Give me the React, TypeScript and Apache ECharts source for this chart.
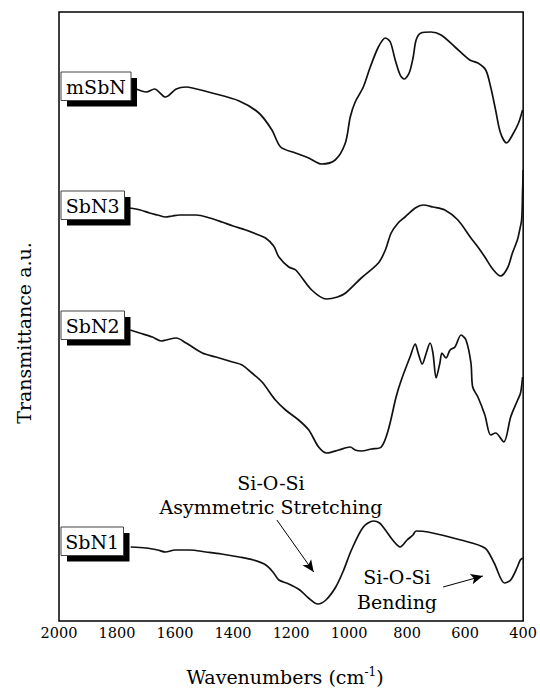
import React, { useEffect, useRef } from "react";
import * as echarts from "echarts";

// Wavenumbers (cm-1) and transmittance (arbitrary units)
const mSbNWn = [1734, 1699, 1671, 1633, 1596, 1562, 1540, 1472, 1379, 1311, 1266, 1236, 1185, 1139, 1095, 1048, 1013, 996, 979, 951, 927, 899, 875, 858, 841, 824, 810, 793, 779, 769, 752, 718, 683, 635, 584, 556, 529, 512, 495, 478, 457, 437, 416, 402];
const mSbNVal = [532, 529, 532, 524, 532, 534, 533, 528, 520, 508, 491, 474, 468, 463, 457, 461, 478, 504, 519, 534, 554, 574, 583, 579, 561, 546, 542, 548, 564, 581, 588, 589, 586, 574, 561, 558, 551, 534, 511, 488, 478, 486, 498, 511];

const sbN3Wn = [1757, 1720, 1688, 1660, 1633, 1610, 1585, 1527, 1480, 1438, 1400, 1356, 1320, 1288, 1260, 1242, 1208, 1184, 1129, 1078, 1040, 1012, 958, 899, 875, 855, 831, 807, 772, 745, 711, 670, 625, 580, 556, 532, 505, 478, 454, 437, 420, 412, 405, 402, 400];
const sbN3Val = [413, 411, 408, 406, 404, 405, 406, 406, 403, 399, 395, 391, 387, 383, 375, 364, 354, 351, 331, 322, 324, 328, 343, 358, 371, 388, 398, 404, 413, 416, 414, 411, 401, 383, 374, 364, 352, 345, 353, 368, 381, 391, 402, 430, 451];

const sbN2Wn = [1754, 1722, 1678, 1648, 1631, 1596, 1562, 1506, 1459, 1402, 1369, 1335, 1300, 1254, 1219, 1174, 1139, 1105, 1077, 1036, 996, 979, 958, 923, 889, 865, 838, 820, 790, 772, 762, 748, 734, 721, 711, 700, 687, 680, 666, 652, 635, 614, 597, 580, 574, 556, 532, 512, 495, 467, 443, 419, 409, 402];
const sbN2Val = [291, 288, 284, 280, 281, 283, 278, 268, 264, 259, 256, 248, 239, 221, 211, 201, 191, 174, 168, 171, 174, 171, 170, 172, 174, 191, 224, 241, 264, 277, 268, 257, 268, 278, 268, 243, 258, 268, 263, 271, 274, 286, 281, 258, 234, 224, 206, 186, 188, 179, 204, 221, 228, 244];

const sbN1Wn = [1753, 1700, 1660, 1633, 1600, 1550, 1493, 1440, 1379, 1330, 1287, 1260, 1242, 1208, 1170, 1140, 1108, 1080, 1046, 1020, 992, 951, 916, 895, 875, 850, 824, 800, 780, 769, 728, 615, 532, 500, 464, 443, 420, 410, 401];
const sbN1Val = [74, 73, 71, 69, 71, 71, 69, 67, 64, 61, 56, 48, 41, 37, 31, 23, 17, 21, 34, 50, 71, 94, 100, 98, 91, 81, 74, 81, 86, 90, 89, 81, 73, 58, 38, 41, 54, 61, 63];

const xTicks = [2000, 1800, 1600, 1400, 1200, 1000, 800, 600, 400];
const seriesNames = ["mSbN", "SbN3", "SbN2", "SbN1"];

// Arrow annotations [fromWn, fromVal, toWn, toVal]
const arrowStretch = [1249, 101, 1122, 49];
const arrowBend = [676, 34, 539, 45];

const FONT = "DejaVu Serif";
const FS = 19;

function zip(xs: number[], ys: number[]) {
  return xs.map((x, i) => [x, ys[i]]);
}

function txt(text: string, x: number, y: number, extra: any = {}) {
  return {
    type: "text",
    x,
    y,
    style: {
      text,
      fontFamily: FONT,
      fontSize: FS,
      fill: "#000",
      align: "center",
      verticalAlign: "middle",
      ...extra,
    },
  };
}

export default function App() {
  const ref = useRef<HTMLDivElement>(null);
  useEffect(() => {
    if (!ref.current) return;
    const chart = echarts.init(ref.current, undefined, { renderer: "svg" });
    const datasets = [zip(mSbNWn, mSbNVal), zip(sbN3Wn, sbN3Val), zip(sbN2Wn, sbN2Val), zip(sbN1Wn, sbN1Val)];

    const boxes = [
      { x: 61, y: 72, w: 70 },
      { x: 61, y: 191, w: 63.5 },
      { x: 61, y: 311, w: 63.5 },
      { x: 61, y: 527, w: 62.5 },
    ];
    const boxGraphics: any[] = [];
    boxes.forEach((b, i) => {
      boxGraphics.push({
        type: "rect",
        shape: { x: b.x + 6, y: b.y + 6, width: b.w, height: 28.5 },
        style: { fill: "#000" },
        z: 100,
      });
      boxGraphics.push({
        type: "rect",
        shape: { x: b.x, y: b.y, width: b.w, height: 28.5 },
        style: { fill: "#fff", stroke: "#444", lineWidth: 1 },
        z: 101,
      });
      boxGraphics.push({ ...txt(seriesNames[i], b.x + b.w / 2, b.y + 14.5), z: 102 });
    });

    const option: any = {
      animation: false,
      backgroundColor: "#fff",
      grid: {
        left: 59,
        right: 15,
        top: 12,
        bottom: 70,
        show: true,
        borderColor: "#000",
        borderWidth: 1.5,
        backgroundColor: "transparent",
      },
      xAxis: {
        type: "value",
        inverse: true,
        min: 400,
        max: 2000,
        interval: 200,
        axisLine: { show: false },
        axisTick: { show: false },
        splitLine: { show: false },
        axisLabel: {
          fontFamily: FONT,
          fontSize: 14.5,
          color: "#000",
          margin: 4,
          formatter: (v: number) => (xTicks.includes(v) ? String(v) : ""),
        },
      },
      yAxis: {
        type: "value",
        min: 0,
        max: 609,
        axisLine: { show: false },
        axisTick: { show: false },
        axisLabel: { show: false },
        splitLine: { show: false },
      },
      series: datasets.map((d, i) => ({
        name: seriesNames[i],
        type: "line",
        data: d,
        showSymbol: false,
        symbol: "none",
        smooth: 0.3,
        lineStyle: { color: "#111", width: 1.7 },
        z: 5,
        markLine:
          i === 3
            ? {
                silent: true,
                symbol: ["none", "arrow"],
                symbolSize: [8, 12],
                label: { show: false },
                lineStyle: { color: "#000", width: 1, type: "solid" },
                data: [
                  [
                    { coord: [arrowStretch[0], arrowStretch[1]] },
                    { coord: [arrowStretch[2], arrowStretch[3]] },
                  ],
                  [
                    { coord: [arrowBend[0], arrowBend[1]] },
                    { coord: [arrowBend[2], arrowBend[3]] },
                  ],
                ],
              }
            : undefined,
      })),
      graphic: [
        ...boxGraphics,
        { ...txt("Transmittance a.u.", 24, 333), rotation: Math.PI / 2 },
        txt("{a|Wavenumbers (cm}{s|-1}{a|)}", 285, 677, {
          rich: {
            a: { fontFamily: FONT, fontSize: FS, fill: "#000", lineHeight: 24 },
            s: { fontFamily: FONT, fontSize: 12, fill: "#000", lineHeight: 24, padding: [0, 0, 10, 0] },
          },
        }),
        txt("Si-O-Si", 271, 483),
        txt("Asymmetric Stretching", 271, 507),
        txt("Si-O-Si", 397, 577),
        txt("Bending", 397, 602),
      ],
    };
    chart.setOption(option);
    return () => chart.dispose();
  }, []);

  return (
    <div
      ref={ref}
      style={{ position: "fixed", left: 0, top: 0, width: 540, height: 691, background: "#fff" }}
    />
  );
}
